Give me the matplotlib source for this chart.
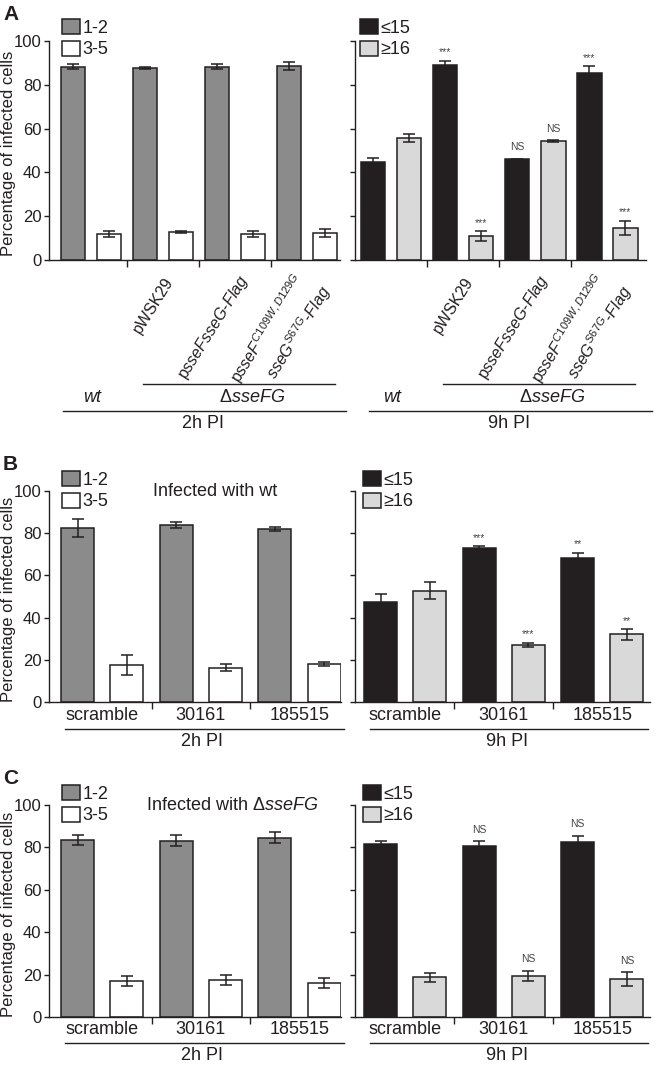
import numpy as np
import matplotlib
matplotlib.use("Agg")
import matplotlib.pyplot as plt
from matplotlib.patches import Patch
from matplotlib.lines import Line2D

# ---------------- data ----------------
# panel A: wt, pWSK29, psseFsseG-Flag, psseF(C109W,D129G)sseG(S67G)-Flag
a2h_low = [88.2, 87.6, 88.2, 88.4]      # 1-2 bacteria
a2h_low_err = [1.1, 0.4, 1.1, 1.8]
a2h_high = [11.9, 12.7, 11.9, 12.2]     # 3-5 bacteria
a2h_high_err = [1.5, 0.5, 1.2, 1.8]
a9h_low = [44.6, 89.0, 46.0, 85.5]      # <=15
a9h_low_err = [2.0, 2.0, 0.3, 3.0]
a9h_high = [55.7, 11.1, 54.2, 14.8]     # >=16
a9h_high_err = [1.8, 2.2, 0.5, 3.2]
a9h_low_sig = ["", "***", "NS", "***"]
a9h_high_sig = ["", "***", "NS", "***"]

# panel B: siRNA, infected with wt
si_labels = ["scramble", "30161", "185515"]
b2h_low = [82.5, 83.7, 82.1]
b2h_low_err = [4.4, 1.4, 1.0]
b2h_high = [17.7, 16.3, 18.0]
b2h_high_err = [4.7, 1.6, 1.0]
b9h_low = [47.4, 72.8, 68.3]
b9h_low_err = [4.0, 1.2, 2.5]
b9h_high = [52.8, 27.1, 32.0]
b9h_high_err = [4.0, 1.0, 2.7]
b9h_low_sig = ["", "***", "**"]
b9h_high_sig = ["", "***", "**"]

# panel C: siRNA, infected with dsseFG
c2h_low = [83.5, 83.2, 84.6]
c2h_low_err = [2.5, 2.5, 2.5]
c2h_high = [16.8, 17.3, 15.9]
c2h_high_err = [2.4, 2.4, 2.4]
c9h_low = [81.5, 80.7, 82.6]
c9h_low_err = [1.5, 2.3, 3.0]
c9h_high = [18.7, 19.5, 17.7]
c9h_high_err = [2.0, 2.4, 3.3]
c9h_low_sig = ["", "NS", "NS"]
c9h_high_sig = ["", "NS", "NS"]

leg_2h = ["1-2", "3-5"]
leg_9h = ["\u226415", "\u226516"]
yticks = [0, 20, 40, 60, 80, 100]
YLAB = "Percentage of infected cells"

# ---------------- style ----------------
INK = "#231f20"
C_MID, C_DARK, C_LIGHT, C_WHITE = "#8b8b8b", "#231f20", "#d9d9d9", "#ffffff"
FAM = ["Liberation Sans", "DejaVu Sans"]
plt.rcParams.update({
    "font.family": FAM, "font.size": 13, "text.color": INK,
    "axes.edgecolor": INK, "axes.linewidth": 1.0,
    "xtick.color": INK, "ytick.color": INK,
    "mathtext.fontset": "custom", "mathtext.rm": "Liberation Sans",
    "mathtext.it": "Liberation Sans:italic", "mathtext.sf": "Liberation Sans",
})

W, H = 662, 1069
fig = plt.figure(figsize=(W / 100, H / 100), dpi=100)


def axes_px(x0, x1, ytop, ybot):
    return fig.add_axes([x0 / W, 1 - ybot / H, (x1 - x0) / W, (ybot - ytop) / H])


def fig_text(x, y, s, **kw):
    kw.setdefault("ha", "center"); kw.setdefault("va", "center")
    fig.text(x / W, 1 - y / H, s, **kw)


def fig_line(x0, x1, y):
    fig.add_artist(Line2D([x0 / W, x1 / W], [1 - y / H] * 2, transform=fig.transFigure, color=INK, lw=1.0))


def panel(ax, low, low_err, high, high_err, c_low, c_high, xlim, sig_low=None, sig_high=None, ylabels=True):
    n = len(low)
    xl = np.arange(n) * 2
    xh = xl + 1
    bkw = dict(width=0.67, edgecolor=INK, linewidth=1.1, zorder=2)
    ekw = dict(fmt="none", ecolor=INK, elinewidth=1.1, capsize=4.5, capthick=1.1, zorder=3)
    ax.bar(xl, low, color=c_low, **bkw)
    ax.bar(xh, high, color=c_high, **bkw)
    ax.errorbar(xl, low, yerr=low_err, **ekw)
    ax.errorbar(xh, high, yerr=high_err, **ekw)
    for xs, vals, errs, sig in [(xl, low, low_err, sig_low), (xh, high, high_err, sig_high)]:
        if not sig:
            continue
        for x, v, e, s in zip(xs, vals, errs, sig):
            if s:
                off = 1.5 if s.startswith("*") else 3.0
                ax.text(x, v + e + off, s, ha="center", va="bottom", fontsize=7.5, color="#444444")
    ax.set_ylim(0, 100)
    ax.set_xlim(*xlim)
    ax.set_yticks(yticks)
    ax.set_xticks(np.arange(n - 1) * 2 + 1.5)
    ax.set_xticklabels([])
    for s in ("top", "right"):
        ax.spines[s].set_visible(False)
    ax.tick_params(axis="y", direction="out", length=3.5, width=1.0, labelsize=12, pad=2, labelleft=ylabels)
    ax.tick_params(axis="x", direction="out", length=5, width=1.0)
    return xl + 0.5  # group centres


def legend(ax, labels, colors, x, y):
    handles = [Patch(facecolor=c, edgecolor=INK, linewidth=1.1) for c in colors]
    ax.legend(handles, labels, loc="upper left", bbox_to_anchor=(x / W, 1 - y / H),
              bbox_transform=fig.transFigure, frameon=False, borderpad=0, borderaxespad=0,
              handlelength=1.0, handleheight=0.9, handletextpad=0.15, labelspacing=0.22, fontsize=13)


# ---------------- panel A ----------------
axA1 = axes_px(49, 340, 41, 260)
axA2 = axes_px(355, 646, 41, 260)
gA1 = panel(axA1, a2h_low, a2h_low_err, a2h_high, a2h_high_err, C_MID, C_WHITE, (-0.667, 7.42))
gA2 = panel(axA2, a9h_low, a9h_low_err, a9h_high, a9h_high_err, C_DARK, C_LIGHT, (-0.51, 7.57),
            a9h_low_sig, a9h_high_sig, ylabels=False)
legend(axA1, leg_2h, [C_MID, C_WHITE], 62, 19)
legend(axA2, leg_9h, [C_DARK, C_LIGHT], 360, 19)

lab_kw = dict(xycoords=("data", "axes fraction"), textcoords="offset pixels", rotation=58,
              rotation_mode="anchor", ha="right", va="center", fontsize=11.5)
for ax, g in [(axA1, gA1), (axA2, gA2)]:
    ax.annotate("pWSK29", xy=(g[1], 0), xytext=(7, -19), **lab_kw)
    ax.annotate(r"p$\mathit{sseFsseG}$-$\mathit{Flag}$", xy=(g[2], 0), xytext=(10, -17), **lab_kw)
    ax.annotate(r"p$\mathit{sseF}^{C109W,D129G}$", xy=(g[3], 0), xytext=(-6, -16), **lab_kw)
    ax.annotate(r"$\mathit{sseG}^{S67G}$-$\mathit{Flag}$", xy=(g[3], 0), xytext=(20, -27), **lab_kw)

for dx, tag in [(0, "2h PI"), (300, "9h PI")]:
    fig_text(92 + dx, 397, "wt", style="italic")
    fig_text(252 + dx, 397, "\u0394$\\mathit{sseFG}$")
    fig_line(143 + dx, 335 + dx, 384)
    fig_line(63 + dx + (6 if dx else 0), 346 + dx + (6 if dx else 0), 411)
    fig_text(203 + dx + (6 if dx else 0), 424, tag)

# ---------------- panels B, C ----------------
rows = [
    ("B", 491, 702, (b2h_low, b2h_low_err, b2h_high, b2h_high_err),
     (b9h_low, b9h_low_err, b9h_high, b9h_high_err, b9h_low_sig, b9h_high_sig),
     "Infected with wt", 215, 729, 741),
    ("C", 805, 1017, (c2h_low, c2h_low_err, c2h_high, c2h_high_err),
     (c9h_low, c9h_low_err, c9h_high, c9h_high_err, c9h_low_sig, c9h_high_sig),
     "Infected with \u0394$\\mathit{sseFG}$", 232, 1043, 1055),
]
for letter, ytop, ybot, d2, d9, title, tx, yline, ytag in rows:
    ax1 = axes_px(49, 341, ytop, ybot)
    ax2 = axes_px(355, 650, ytop, ybot)
    g1 = panel(ax1, *d2, C_MID, C_WHITE, (-0.58, 5.34))
    g2 = panel(ax2, *d9[:4], C_DARK, C_LIGHT, (-0.52, 5.47), d9[4], d9[5], ylabels=False)
    legend(ax1, leg_2h, [C_MID, C_WHITE], 62, ytop - 20)
    legend(ax2, leg_9h, [C_DARK, C_LIGHT], 363, ytop - 20)
    fig_text(tx, ytop + 1, title)
    for ax, g in [(ax1, g1), (ax2, g2)]:
        for x, s in zip(g, si_labels):
            ax.annotate(s, xy=(x, 0), xycoords=("data", "axes fraction"), xytext=(0, -13),
                        textcoords="offset pixels", ha="center", va="center", fontsize=13)
    fig_line(65, 344, yline)
    fig_line(370, 648, yline)
    fig_text(202, ytag, "2h PI")
    fig_text(507, ytag, "9h PI")
    fig_text(8.5, (ytop + ybot) / 2 + 3, YLAB, rotation=90, fontsize=12)
    fig_text(3, ytop - 27, letter, ha="left", fontsize=15, weight="bold")

fig_text(8.5, 153, YLAB, rotation=90, fontsize=12)
fig_text(3, 15, "A", ha="left", fontsize=15, weight="bold")

fig.savefig("out.png", dpi=100)
